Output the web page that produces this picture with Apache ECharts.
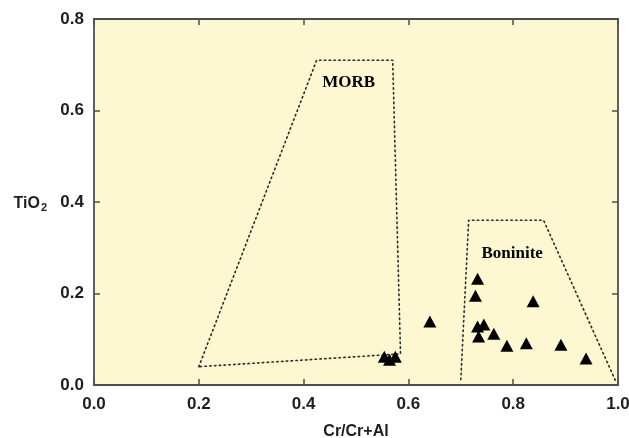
<!DOCTYPE html>
<html>
<head>
<meta charset="utf-8">
<script src="https://cdn.jsdelivr.net/npm/echarts@6/dist/echarts.min.js"></script>
<style>
html,body{margin:0;padding:0;background:#fff;}
#c{width:629px;height:438px;}
</style>
</head>
<body>
<div id="c"></div>
<script>
// ---- data ----
var xTicks = [0.0, 0.2, 0.4, 0.6, 0.8, 1.0];
var yTicks = [0.0, 0.2, 0.4, 0.6, 0.8];
var xName = 'Cr/Cr+Al';
var yNameMain = 'TiO';
var yNameSub = '2';

var samplesX = [0.641, 0.732, 0.728, 0.838, 0.732, 0.744, 0.734, 0.763, 0.788, 0.825, 0.891, 0.939, 0.554, 0.564, 0.575];
var samplesY = [0.139, 0.232, 0.195, 0.183, 0.128, 0.132, 0.106, 0.112, 0.086, 0.091, 0.088, 0.058, 0.062, 0.055, 0.062];

var morbX = [0.200, 0.425, 0.570, 0.585, 0.200];
var morbY = [0.040, 0.710, 0.710, 0.068, 0.040];

var boniniteX = [0.700, 0.715, 0.858, 0.995];
var boniniteY = [0.012, 0.360, 0.360, 0.010];

var fieldNames = ['MORB', 'Boninite'];
var fieldLabelX = [0.486, 0.798];
var fieldLabelY = [0.662, 0.287];

// ---- build ----
function zip(a, b) { return a.map(function (v, i) { return [v, b[i]]; }); }

var axisColor = '#4d4d4d';
var sans = 'Liberation Sans, Arial, sans-serif';
var tickFont = { fontFamily: sans, fontWeight: 'bold', fontSize: 17, color: '#1e1e1e' };
var dotted = { color: '#2a2a2a', width: 1.6, type: [1.5, 3.3], cap: 'round' };

var chart = echarts.init(document.getElementById('c'), null, { renderer: 'canvas' });
chart.setOption({
  backgroundColor: '#ffffff',
  animation: false,
  grid: { left: 94, right: 11, top: 19, bottom: 53, show: true, backgroundColor: '#fdf8d2', borderWidth: 0, containLabel: false, outerBoundsMode: 'none' },
  xAxis: [{
    type: 'value', min: 0, max: 1, interval: 0.2,
    name: xName, nameLocation: 'middle', nameGap: 39,
    nameTextStyle: { fontFamily: sans, fontWeight: 'bold', fontSize: 16, color: '#1e1e1e' },
    axisLine: { show: true, onZero: false, lineStyle: { color: axisColor, width: 1.8 } },
    axisTick: { show: true, inside: true, length: 6, lineStyle: { color: axisColor, width: 1.5 } },
    axisLabel: Object.assign({ margin: 11, formatter: function (v) { return v.toFixed(1); } }, tickFont),
    splitLine: { show: false }
  }, {
    type: 'value', min: 0, max: 1, interval: 0.2, position: 'top',
    axisLine: { show: true, onZero: false, lineStyle: { color: axisColor, width: 1.8 } },
    axisTick: { show: true, inside: true, length: 6, lineStyle: { color: axisColor, width: 1.5 } },
    axisLabel: { show: false }, splitLine: { show: false }
  }],
  yAxis: [{
    type: 'value', min: 0, max: 0.8, interval: 0.2,
    name: '{m|' + yNameMain + '}{s|' + yNameSub + '}', nameLocation: 'middle', nameRotate: 0, nameGap: 47,
    nameTextStyle: {
      padding: [4, 0, 0, 0],
      rich: {
        m: { fontFamily: sans, fontWeight: 'bold', fontSize: 16, color: '#1e1e1e', lineHeight: 18 },
        s: { fontFamily: sans, fontWeight: 'bold', fontSize: 11, color: '#1e1e1e', lineHeight: 18, verticalAlign: 'bottom', padding: [6, 0, 0, 1] }
      }
    },
    axisLine: { show: true, onZero: false, lineStyle: { color: axisColor, width: 1.8 } },
    axisTick: { show: true, inside: true, length: 6, lineStyle: { color: axisColor, width: 1.5 } },
    axisLabel: Object.assign({ margin: 10, formatter: function (v) { return v.toFixed(1); } }, tickFont),
    splitLine: { show: false }
  }, {
    type: 'value', min: 0, max: 0.8, interval: 0.2, position: 'right',
    axisLine: { show: true, onZero: false, lineStyle: { color: axisColor, width: 1.8 } },
    axisTick: { show: true, inside: true, length: 6, lineStyle: { color: axisColor, width: 1.5 } },
    axisLabel: { show: false }, splitLine: { show: false }
  }],
  series: [{
    type: 'line', data: zip(morbX, morbY), symbol: 'none', clip: true, silent: true,
    lineStyle: dotted
  }, {
    type: 'line', data: zip(boniniteX, boniniteY), symbol: 'none', clip: true, silent: true,
    lineStyle: dotted
  }, {
    type: 'scatter', data: zip(samplesX, samplesY), symbol: 'triangle', symbolSize: [13, 12],
    itemStyle: { color: '#000', opacity: 1 }, z: 5
  }, {
    type: 'scatter', symbolSize: 1, silent: true,
    itemStyle: { color: '#fdf8d2', opacity: 1 },
    data: fieldNames.map(function (n, i) { return { name: n, value: [fieldLabelX[i], fieldLabelY[i]] }; }),
    label: {
      show: true, position: 'inside', formatter: '{b}', opacity: 1,
      textBorderWidth: 0,
      fontFamily: 'Liberation Serif, Times New Roman, serif', fontWeight: 'bold', fontSize: 17, color: '#000'
    }
  }]
});
</script>
</body>
</html>
